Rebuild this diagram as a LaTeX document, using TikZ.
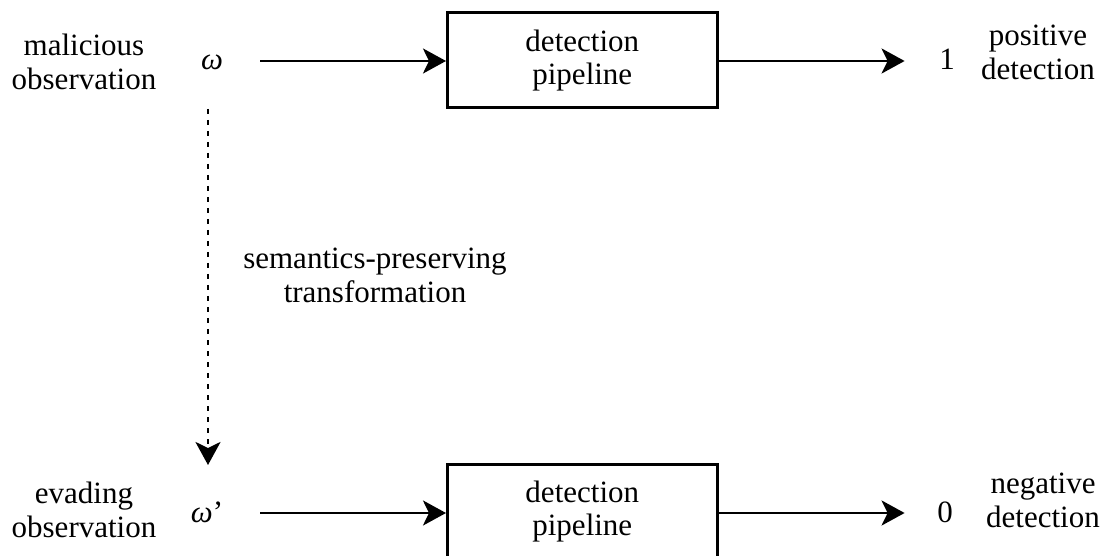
\documentclass[tikz,border=0pt]{standalone}
\usepackage{fontspec}
\setmainfont{Liberation Serif}
\usetikzlibrary{arrows.meta}
\begin{document}
\begin{tikzpicture}[x=1pt,y=-1pt,
  lbl/.style={align=center,font=\fontsize{31}{34}\selectfont,inner sep=0pt,anchor=base},
  sym/.style={font=\fontsize{31}{34}\selectfont,inner sep=0pt,anchor=base},
  pipebox/.style={draw,line width=2.6pt,minimum width=270pt,minimum height=95pt,align=center,
    font=\fontsize{31}{33}\selectfont,inner sep=0pt,anchor=north west},
  tip/.style={-{Stealth[length=23pt,width=25pt,inset=6pt]}},
  flow/.style={line width=2.6pt,tip},
  morph/.style={line width=2.7pt,dash pattern=on 5.3pt off 5.7pt,tip}]
\useasboundingbox (0,0) rectangle (1109,556);
\clip (0,0) rectangle (1109,556);
% upper row: malicious observation (two-line labels are placed by their last baseline)
\node[lbl] (mal) at (84,90) {malicious\\observation};
\node[sym] (w) at (212,70) {\textit{ω}};
\coordinate (wout) at (260,61);
\node[pipebox] (p1) at (446,11.5) {detection\\pipeline};
\node[sym] (one) at (947,70) {1};
\node[lbl] (pos) at (1038,80) {positive\\detection};
\draw[flow] (wout) -- (wout -| p1.west);
\draw[flow] (p1.east |- wout) -- ++(186,0);
% lower row: evading observation
\node[lbl] (eva) at (84,537) {evading\\observation};
\node[sym] (w2) at (207,522) {\textit{ω}’};
\coordinate (w2out) at (260,513);
\node[pipebox] (p2) at (446,463) {detection\\pipeline};
\node[sym] (zero) at (945,522) {0};
\node[lbl] (neg) at (1043,527) {negative\\detection};
\draw[flow] (w2out) -- (w2out -| p2.west);
\draw[flow] (p2.east |- w2out) -- ++(186,0);
% transformation between the two observations
\coordinate (ts) at (208,109);
\coordinate (te) at (208,465);
\draw[morph] (ts) -- (te);
\node[lbl] (tr) at (375,302) {semantics-preserving\\transformation};
\end{tikzpicture}
\end{document}
